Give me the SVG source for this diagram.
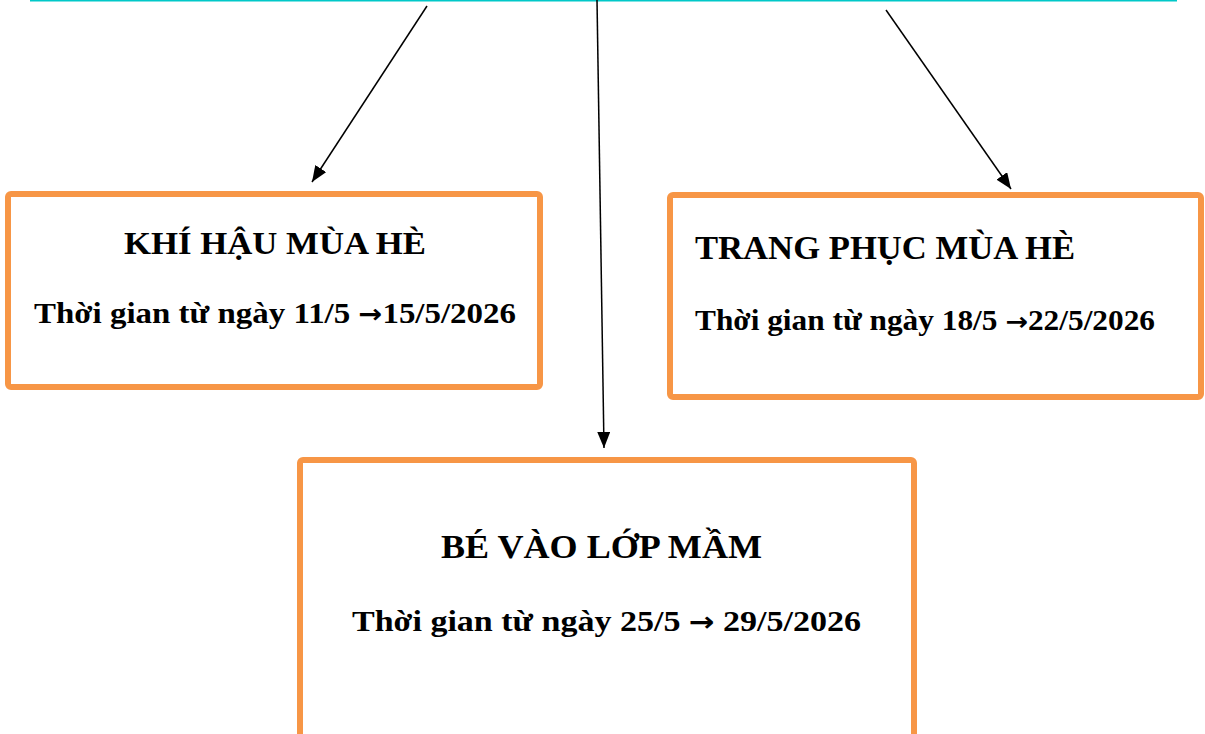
<svg xmlns="http://www.w3.org/2000/svg" width="1205" height="734" viewBox="0 0 1205 734">
<style>
.box{fill:#fff;stroke:#F79646;stroke-width:6}
.t{font-family:"Liberation Serif","Times New Roman",serif;font-weight:bold;fill:#000}
.a{font-family:"DejaVu Sans",sans-serif;font-weight:bold}
.c{stroke:#000;stroke-width:1.5;fill:none}
</style>
<defs>
<marker id="ah" markerWidth="16" markerHeight="13" refX="16" refY="6.5" orient="auto" markerUnits="userSpaceOnUse" viewBox="0 0 16 13">
<path d="M0,0 L16,6.5 L0,13 Z" fill="#000"/>
</marker>
</defs>
<rect width="1205" height="734" fill="#fff"/>
<line x1="30" y1="0.5" x2="1177" y2="0.5" stroke="#00C8C8" stroke-width="2"/>
<g id="connectors">
<path class="c" d="M427,6 L312,182" marker-end="url(#ah)"/>
<path class="c" d="M597,0 L604,448" marker-end="url(#ah)"/>
<path class="c" d="M886,10 L1011,189" marker-end="url(#ah)"/>
</g>
<g id="node1">
<rect class="box" x="8" y="194" width="532" height="193" rx="3"/>
<text class="t" x="124" y="254" font-size="32" textLength="302" lengthAdjust="spacingAndGlyphs">KHÍ HẬU MÙA HÈ</text>
<text class="t" x="34" y="323" font-size="30" textLength="482" lengthAdjust="spacingAndGlyphs">Thời gian từ ngày 11/5 <tspan class="a" font-size="26">→</tspan>15/5/2026</text>
</g>
<g id="node2">
<rect class="box" x="670" y="195" width="531" height="202" rx="3"/>
<text class="t" x="695" y="259" font-size="34" textLength="380" lengthAdjust="spacingAndGlyphs">TRANG PHỤC MÙA HÈ</text>
<text class="t" x="695" y="330" font-size="29" textLength="460" lengthAdjust="spacingAndGlyphs">Thời gian từ ngày 18/5 <tspan class="a" font-size="25">→</tspan>22/5/2026</text>
</g>
<g id="node3">
<rect class="box" x="300" y="460" width="614" height="290" rx="3"/>
<text class="t" x="441" y="558" font-size="33" textLength="321" lengthAdjust="spacingAndGlyphs">BÉ VÀO LỚP MẦM</text>
<text class="t" x="352" y="631" font-size="30" textLength="509" lengthAdjust="spacingAndGlyphs">Thời gian từ ngày 25/5 <tspan class="a" font-size="27">→</tspan> 29/5/2026</text>
</g>
</svg>
